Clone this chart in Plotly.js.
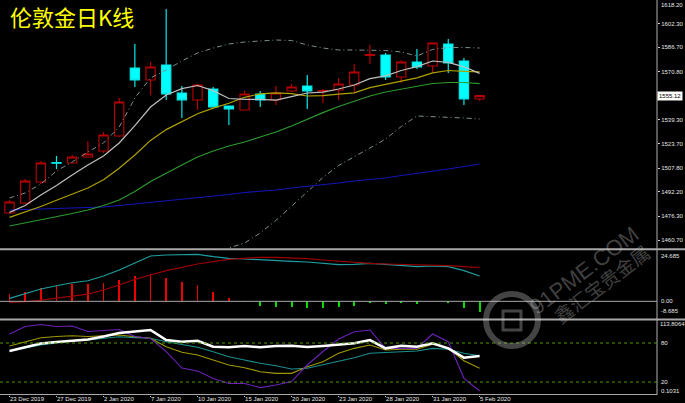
<!DOCTYPE html>
<html><head><meta charset="utf-8">
<script src="https://cdn.plot.ly/plotly-3.0.1.min.js"></script>
<style>html,body{margin:0;padding:0;background:#000;}#c{width:685px;height:403px;}</style>
</head><body><div id="c"></div>
<script>
// ---- data ----
const dates = ['23 Dec 2019','24 Dec 2019','26 Dec 2019','27 Dec 2019','30 Dec 2019','31 Dec 2019','2 Jan 2020','3 Jan 2020','6 Jan 2020','7 Jan 2020','8 Jan 2020','9 Jan 2020','10 Jan 2020','13 Jan 2020','14 Jan 2020','15 Jan 2020','16 Jan 2020','17 Jan 2020','20 Jan 2020','21 Jan 2020','22 Jan 2020','23 Jan 2020','24 Jan 2020','27 Jan 2020','28 Jan 2020','29 Jan 2020','30 Jan 2020','31 Jan 2020','3 Feb 2020','4 Feb 2020','5 Feb 2020'];
const tickDates = ['23 Dec 2019','27 Dec 2019','2 Jan 2020','7 Jan 2020','10 Jan 2020','15 Jan 2020','20 Jan 2020','23 Jan 2020','28 Jan 2020','31 Jan 2020','5 Feb 2020'];
const open  = [1478.37,1484.91,1498.64,1511.30,1511.07,1514.99,1518.92,1528.73,1573.20,1565.35,1575.16,1556.85,1552.27,1559.46,1548.35,1545.73,1556.19,1552.27,1558.16,1561.43,1558.00,1558.81,1562.08,1581.50,1581.70,1567.31,1577.12,1574.51,1588.89,1577.78,1552.92];
const high  = [1486.87,1500.60,1512.38,1515.65,1516.30,1525.46,1531.34,1553.58,1588.89,1577.12,1611.78,1561.43,1562.73,1560.77,1548.60,1558.16,1558.16,1561.43,1562.73,1568.62,1559.46,1566.66,1575.81,1588.24,1583.01,1578.43,1585.62,1589.87,1592.16,1579.74,1555.60];
const low   = [1477.71,1484.25,1497.33,1507.14,1510.74,1514.67,1517.61,1528.07,1560.77,1555.54,1552.27,1540.50,1545.73,1547.36,1535.92,1545.40,1547.69,1549.00,1557.50,1546.38,1550.31,1552.27,1556.85,1575.81,1565.35,1563.39,1572.54,1570.58,1569.93,1549.00,1551.62];
const close = [1485.56,1499.30,1511.07,1510.90,1514.99,1516.95,1529.38,1550.96,1565.35,1573.85,1556.19,1552.27,1562.08,1547.69,1546.38,1556.19,1552.27,1556.85,1560.77,1558.16,1558.40,1562.73,1570.58,1581.90,1567.31,1577.12,1573.85,1589.55,1576.47,1552.92,1555.12];
const ma5   = [1478.76,1483.27,1490.14,1496.35,1503.22,1509.76,1515.65,1524.15,1535.53,1547.69,1555.54,1559.73,1561.75,1558.42,1553.25,1552.73,1552.73,1552.14,1554.49,1556.85,1557.37,1559.46,1562.08,1566.27,1568.10,1571.56,1574.11,1577.78,1576.86,1573.98,1569.67];
const ma10  = [1475.49,1478.96,1482.62,1486.74,1490.60,1494.72,1500.08,1507.67,1516.30,1525.85,1532.91,1538.21,1543.31,1546.97,1550.11,1554.04,1556.32,1556.91,1556.46,1554.89,1555.08,1556.13,1556.98,1560.38,1562.47,1564.57,1566.72,1569.99,1571.56,1571.04,1570.71];
const ma20  = [1469.87,1471.83,1474.12,1476.08,1478.04,1480.33,1483.27,1486.87,1492.43,1498.97,1504.53,1509.76,1514.99,1518.92,1522.19,1524.80,1528.07,1531.34,1535.27,1539.84,1544.03,1548.02,1551.62,1554.89,1557.50,1559.33,1561.43,1563.06,1563.71,1563.71,1562.93];
const maLong= [1480.33,1480.66,1480.98,1481.31,1481.64,1481.96,1482.29,1483.27,1484.25,1485.56,1486.54,1487.52,1488.50,1489.49,1490.47,1491.77,1492.43,1493.41,1494.72,1495.70,1496.68,1497.99,1499.30,1500.28,1501.26,1502.89,1504.20,1505.84,1507.14,1508.78,1510.41];
const bbUpper=[1488.18,1491.45,1497.33,1505.84,1511.72,1518.26,1524.15,1534.61,1553.58,1566.66,1571.89,1577.78,1583.01,1586.28,1588.89,1590.20,1590.86,1591.51,1591.18,1588.24,1586.28,1584.97,1584.97,1584.97,1584.64,1583.66,1581.05,1585.30,1586.60,1586.60,1586.28];
const bbLower=[1451.55,1452.21,1450.90,1446.32,1444.36,1442.40,1442.40,1439.13,1431.28,1431.28,1437.17,1441.74,1446.98,1451.55,1455.48,1458.75,1465.29,1473.46,1482.62,1492.43,1501.58,1509.43,1514.99,1520.88,1526.76,1534.94,1541.81,1541.48,1541.15,1540.50,1539.84];
const priceTicks = [1460.70,1476.30,1492.20,1507.80,1523.70,1539.30,1570.80,1586.70,1602.30];
const topPriceLabel = '1618.20';
const lastPrice = 1555.12;
const macdHist = [3.51,4.62,6.26,7.36,8.18,8.25,8.95,10.25,12.18,13.28,11.36,9.14,7.70,4.62,1.59,-0.15,-2.12,-2.60,-2.60,-3.08,-3.08,-2.74,-2.12,-0.67,-1.30,-0.67,-1.15,0.12,-0.67,-3.37,-5.29];
const macdFast = [1.44,3.85,5.92,7.51,8.95,9.91,12.18,15.06,18.58,21.80,22.28,22.43,22.62,21.46,20.69,20.36,19.87,19.54,19.25,18.91,18.29,17.61,17.81,18.29,17.81,17.13,16.65,16.99,16.65,14.73,12.18];
const macdSlow = [-0.50,-0.20,0.63,1.44,2.55,3.51,5.44,7.84,10.59,12.66,14.73,16.36,17.95,19.06,20.21,20.69,21.17,21.17,20.98,20.50,19.87,19.25,18.58,18.29,17.95,17.81,17.61,17.47,17.13,16.65,16.17];
const macdMax = 24.685, macdMin = -8.685;
const oscPurple = [93.8,105.4,108.5,105.4,106.2,97.7,99.2,100.8,90.0,86.9,66.9,41.5,36.9,25.4,17.7,17.7,11.5,15.4,20.8,46.2,66.9,86.2,97.4,100.0,71.8,71.8,71.8,93.8,82.0,25.7,6.2];
const oscYellow = [75.4,82.0,88.2,90.0,91.2,90.0,91.2,92.3,89.7,87.2,74.3,65.7,61.5,53.8,46.2,42.0,35.8,33.4,33.4,43.5,51.2,64.2,71.8,76.9,69.2,70.3,70.3,78.0,71.8,52.8,41.1];
const oscTeal   = [67.7,72.3,76.9,80.0,83.1,84.6,87.2,89.7,88.2,87.2,82.0,78.0,73.4,66.6,58.9,53.8,48.8,45.1,40.0,41.1,46.2,52.3,57.4,64.2,65.7,66.6,67.7,71.8,70.3,64.2,60.5];
const oscWhite  = [67.7,73.8,79.2,81.5,83.1,85.4,90.0,95.4,97.7,100.0,84.6,82.0,83.5,74.3,73.4,75.4,73.4,75.4,75.8,73.8,75.4,77.7,79.5,84.6,71.8,75.8,74.3,79.5,71.8,57.4,60.0];
const oscMax = 113.8064, oscMin = 0.1031, oscLevels = [80, 20];
const titleText = '伦敦金日K线';
const watermarkEn = '91PME.COM', watermarkCn = '鑫汇宝贵金属';

// ---- traces ----
const skip = {hoverinfo:'skip', showlegend:false};
const line = (y, color, yaxis, width, dash) => Object.assign({type:'scatter', mode:'lines', x:dates, y:y, xaxis:'x', yaxis:yaxis, line:{color:color, width:width||1, dash:dash||'solid'}}, skip);

const traces = [
  line(bbUpper,'#7d8f8f','y',1,'5px,3px,1px,3px'),
  line(bbLower,'#7d8f8f','y',1,'5px,3px,1px,3px'),
  line(maLong,'#1414b8','y',1.2),
  line(ma20,'#2c9a2c','y',1.2),
  line(ma10,'#b0a000','y',1.2),
  line(ma5,'#bfbfbf','y',1.2),
  Object.assign({type:'candlestick', x:dates, open:open, high:high, low:low, close:close, xaxis:'x', yaxis:'y',
    whiskerwidth:0,
    increasing:{line:{color:'#b40000', width:1.2}, fillcolor:'#000000'},
    decreasing:{line:{color:'#00e8e8', width:1.2}, fillcolor:'#00ffff'}}, skip),
  Object.assign({type:'bar', x:dates, y:macdHist, xaxis:'x', yaxis:'y2', width:0.12,
    marker:{color:macdHist.map(v => v >= 0 ? '#ee0000' : '#00dd00'), line:{width:0}}}, skip),
  line(macdFast,'#1f9d9d','y2',1.2),
  line(macdSlow,'#9a0000','y2',1.2),
  line(oscTeal,'#1a8f8f','y3',1.1),
  line(oscYellow,'#a09800','y3',1.1),
  line(oscPurple,'#6a22b8','y3',1.1),
  line(oscWhite,'#ffffff','y3',2.6)
];

// ---- layout ----
const H = 395; // plot area height in px
const W = 657; // plot area width in px
const py = p => (H - p) / H;
const px = p => p / W;
const axisFont = {family:'Liberation Sans, Arial, sans-serif', size:6, color:'#e6e6e6'};
const hidden = {showgrid:false, zeroline:false, showline:false, fixedrange:true};
const ann = (x, xref, y, yref, text, extra) => Object.assign({x:x, xref:xref, y:y, yref:yref, text:text, showarrow:false, xanchor:'left', yanchor:'middle', xshift:2, font:axisFont}, extra||{});
const wmGray = 'rgba(205,205,205,0.33)';

const layout = {
  width:685, height:403,
  paper_bgcolor:'#000', plot_bgcolor:'#000',
  margin:{l:0, r:28, t:0, b:8},
  showlegend:false, boxgap:0.16, bargap:0,
  xaxis:Object.assign({}, hidden, {type:'category', anchor:'y3', domain:[0,1], range:[-0.606, 41.32],
    tickvals:tickDates, ticktext:tickDates, ticks:'outside', ticklen:1, tickcolor:'#cccccc',
    ticklabelposition:'outside right', ticklabelstandoff:-2, tickfont:axisFont, rangeslider:{visible:false}}),
  yaxis:Object.assign({}, hidden, {domain:[py(248),1], range:[1617.67 - 0.654*248, 1617.67], side:'right',
    tickvals:priceTicks, ticktext:priceTicks.map(v=>v.toFixed(2)), ticks:'outside', ticklen:2, tickcolor:'#cccccc', tickfont:axisFont}),
  yaxis2:Object.assign({}, hidden, {domain:[py(319.4), py(250)], range:[macdMin, macdMax], side:'right', showticklabels:false}),
  yaxis3:Object.assign({}, hidden, {domain:[0, py(321)], range:[oscMin, oscMax], side:'right', showticklabels:false}),
  shapes:[
    {type:'line', xref:'paper', yref:'paper', x0:1, x1:1, y0:0, y1:1, line:{color:'#b0b0b0', width:1}},
    {type:'line', xref:'paper', yref:'paper', x0:0, x1:685/W, y0:py(249.3), y1:py(249.3), line:{color:'#a8a8a8', width:2}},
    {type:'line', xref:'paper', yref:'paper', x0:0, x1:685/W, y0:py(319.5), y1:py(319.5), line:{color:'#a8a8a8', width:2}},
    {type:'line', xref:'paper', yref:'paper', x0:0, x1:1, y0:py(394.5), y1:py(394.5), line:{color:'#a8a8a8', width:1}},
    {type:'line', xref:'paper', yref:'y2', x0:0, x1:1, y0:0, y1:0, line:{color:'#a8a8a8', width:1}},
    {type:'line', xref:'paper', yref:'y3', x0:0, x1:1, y0:oscLevels[0], y1:oscLevels[0], line:{color:'#4f9a00', width:1, dash:'dot'}},
    {type:'line', xref:'paper', yref:'y3', x0:0, x1:1, y0:oscLevels[1], y1:oscLevels[1], line:{color:'#4f9a00', width:1, dash:'dot'}},
    // watermark logo
    {type:'circle', xref:'paper', yref:'paper', x0:px(486), x1:px(538), y0:py(346), y1:py(294), line:{color:wmGray, width:6}},
    {type:'rect', xref:'paper', yref:'paper', x0:px(503), x1:px(521), y0:py(330), y1:py(311), line:{color:wmGray, width:3}, fillcolor:'rgba(0,0,0,0)'}
  ],
  annotations:[
    {x:px(8), xref:'paper', y:py(16), yref:'paper', text:titleText, showarrow:false, xanchor:'left', yanchor:'middle',
     font:{family:'Noto Sans CJK SC, sans-serif', size:22, color:'#ffff00'}},
    ann(1,'paper', lastPrice,'y', lastPrice.toFixed(2), {bgcolor:'#ffffff', font:Object.assign({}, axisFont, {color:'#000000'}), borderpad:1, xshift:0}),
    ann(1,'paper', 1.0,'paper', topPriceLabel, {yanchor:'top'}),
    ann(1,'paper', py(255.5),'paper', macdMax.toFixed(3)),
    ann(1,'paper', 0,'y2', '0.00'),
    ann(1,'paper', py(311),'paper', macdMin.toFixed(3)),
    ann(1,'paper', py(323.5),'paper', String(oscMax), {xshift:1}),
    ann(1,'paper', oscLevels[0],'y3', String(oscLevels[0])),
    ann(1,'paper', oscLevels[1],'y3', String(oscLevels[1])),
    ann(1,'paper', py(391),'paper', String(oscMin)),
    // watermark text
    {x:px(584), xref:'paper', y:py(270), yref:'paper', text:watermarkEn, showarrow:false, textangle:-37, xanchor:'center', yanchor:'middle',
     font:{family:'Liberation Sans, Arial, sans-serif', size:22, color:wmGray}},
    {x:px(601), xref:'paper', y:py(283), yref:'paper', text:watermarkCn, showarrow:false, textangle:-37, xanchor:'center', yanchor:'middle',
     font:{family:'Noto Sans CJK SC, sans-serif', size:19, color:wmGray}}
  ]
};

Plotly.newPlot('c', traces, layout, {staticPlot:true, displayModeBar:false});
</script></body></html>
